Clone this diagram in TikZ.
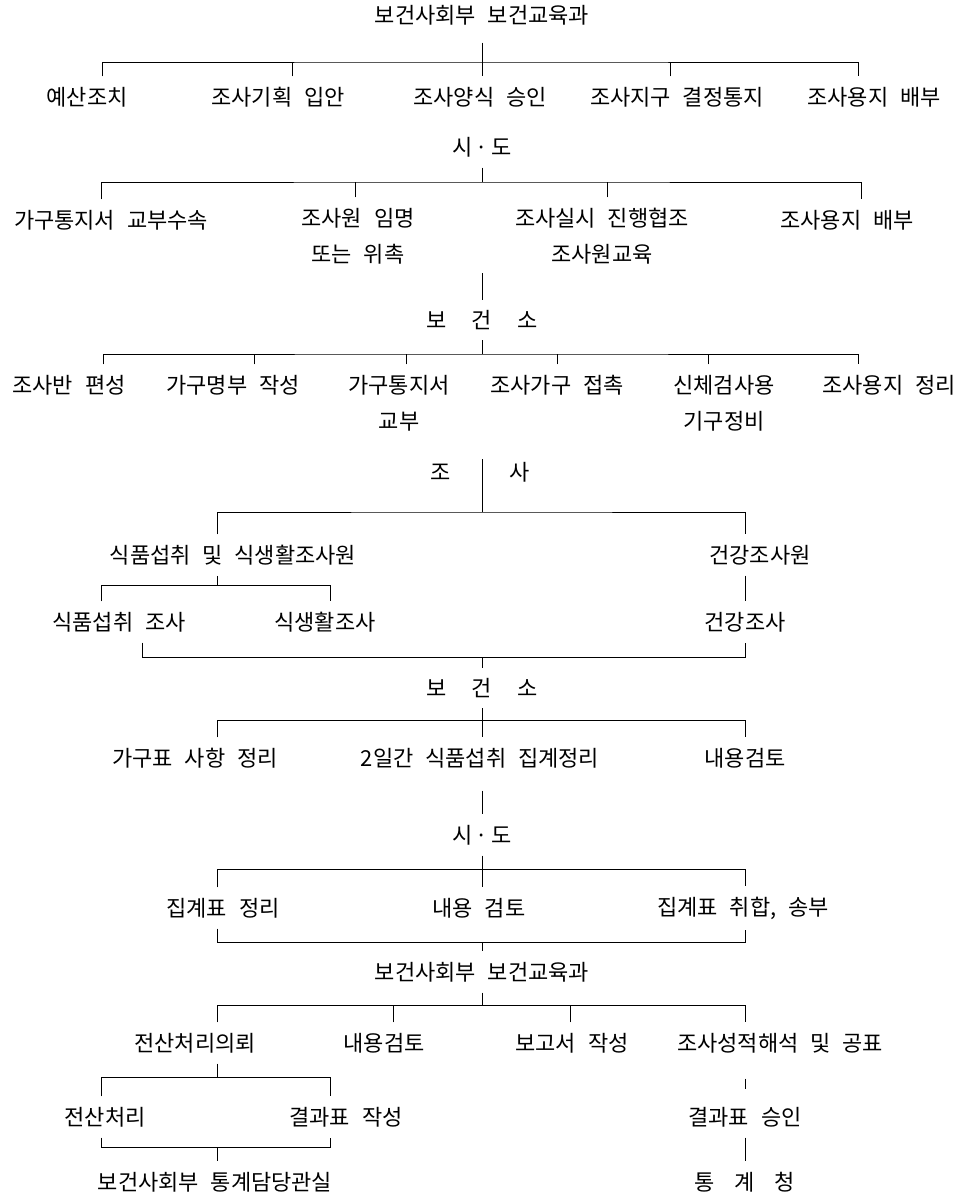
\documentclass[tikz,border=0pt]{standalone}
\usepackage{fontspec}
\setmainfont{Noto Sans CJK KR}[WordSpace=2.4]
\begin{document}
\begin{tikzpicture}[x=1pt, y=-1pt,
  unit/.style={font=\fontsize{22}{36}\selectfont, inner xsep=2pt, inner ysep=10.5pt},
  unit2/.style={unit, align=center},
  link/.style={line width=1pt}]
  \useasboundingbox (0,0) rectangle (957,1195);
  % 보건사회부
  \node[unit] (hqa) at (482,15) {보건사회부 보건교육과};
  \coordinate (b1) at (482,62);
  \node[unit] (r1a) at (87,97) {예산조치};
  \node[unit] (r1b) at (278,97) {조사기획 입안};
  \node[unit] (r1c) at (480,97) {조사양식 승인};
  \node[unit] (r1d) at (677,97) {조사지구 결정통지};
  \node[unit] (r1e) at (874,97) {조사용지 배부};
  \draw[link, shorten <=7pt] (hqa.south) -- (hqa.south |- r1c.north);
  \draw[link] ([xshift=15pt]r1a.north) |- (b1) -| ([xshift=-16pt]r1e.north);
  \foreach \n/\d in {r1b/14, r1d/-7} \draw[link] ([xshift=\d pt]\n.north) -- ([xshift=\d pt]\n.north |- b1);
  % 시도
  \node[unit] (sido1) at (482,147) {시\kern3pt·\kern3pt도};
  \coordinate (b2) at (482,182);
  \node[unit] (r2a) at (111,220) {가구통지서 교부수속};
  \node[unit2] (r2b) at (358,236) {조사원 임명\\또는 위촉};
  \node[unit2] (r2c) at (602,236) {조사실시 진행협조\\조사원교육};
  \node[unit] (r2d) at (847,220) {조사용지 배부};
  \draw[link] (sido1.south) -- (b2);
  \draw[link] ([xshift=-10pt]r2a.north) |- (b2) -| ([xshift=14pt]r2d.north);
  \foreach \n/\d in {r2b/-3, r2c/5} \draw[link] ([xshift=\d pt]\n.north) -- ([xshift=\d pt]\n.north |- b2);
  \coordinate (c2) at (482,273);
  % 보건소
  \node[unit] (bgs1) at (482,320) {보\hspace{1.15em}건\hspace{1.15em}소};
  \coordinate (b3) at (482,354);
  \node[unit] (r3a) at (69,385) {조사반 편성};
  \node[unit] (r3b) at (233,385) {가구명부 작성};
  \node[unit2] (r3c) at (399,403) {가구통지서\\교부};
  \node[unit] (r3d) at (557,385) {조사가구 접촉};
  \node[unit2] (r3e) at (724,403) {신체검사용\\기구정비};
  \node[unit] (r3f) at (889,385) {조사용지 정리};
  \draw[link] (c2) -- (bgs1.north);
  \draw[link] (bgs1.south) -- (b3);
  \draw[link] ([xshift=34pt]r3a.north) |- (b3) -| ([xshift=-31pt]r3f.north);
  \foreach \n/\d in {r3b/21, r3c/7, r3d/0, r3e/-16} \draw[link] ([xshift=\d pt]\n.north) -- ([xshift=\d pt]\n.north |- b3);
  % 조사
  \node[unit] (josa) at (480,472) {조\hspace{2.7em}사};
  \coordinate (b4) at (482,512);
  \node[unit] (r4a) at (233,555) {식품섭취 및 식생활조사원};
  \node[unit] (r4b) at (760,555) {건강조사원};
  \draw[link, shorten <=8pt] (b4 |- josa.north) -- (b4);
  \draw[link] ([xshift=-16pt]r4a.north) |- (b4) -| ([xshift=-15pt]r4b.north);
  \coordinate (b5) at (217,585);
  \node[unit] (r4c) at (119,622) {식품섭취 조사};
  \node[unit] (r4d) at (325,622) {식생활조사};
  \node[unit] (r4e) at (745,622) {건강조사};
  \draw[link] ([xshift=-16pt]r4a.south) -- (b5);
  \draw[link] ([xshift=-18pt]r4c.north) |- (b5) -| ([xshift=5pt]r4d.north);
  \draw[link] ([xshift=-15pt]r4b.south) -- (r4e.north);
  \coordinate (b6) at (482,657);
  \draw[link] ([xshift=23pt]r4c.south) |- (b6) -| (r4e.south);
  % 보건소
  \node[unit] (bgs2) at (482,688) {보\hspace{1.15em}건\hspace{1.15em}소};
  \coordinate (b7) at (482,720);
  \node[unit] (r5a) at (195,758) {가구표 사항 정리};
  \node[unit] (r5b) at (480,758) {2일간 식품섭취 집계정리};
  \node[unit] (r5c) at (745,758) {내용검토};
  \draw[link] (b6) -- (bgs2.north);
  \draw[link] (bgs2.south) -- (bgs2.south |- r5b.north);
  \draw[link] ([xshift=22pt]r5a.north) |- (b7) -| (r5c.north);
  % 시도
  \node[unit] (sido2) at (482,835) {시\kern3pt·\kern3pt도};
  \coordinate (b8) at (482,869);
  \node[unit] (r6a) at (223,908) {집계표 정리};
  \node[unit] (r6b) at (479,908) {내용 검토};
  \node[unit] (r6c) at (743,908) {집계표 취합, 송부};
  \draw[link, shorten <=12pt] (sido2.north |- r5b.south) -- (sido2.north);
  \draw[link] (sido2.south) -- (sido2.south |- r6b.north);
  \draw[link] ([xshift=-6pt]r6a.north) |- (b8) -| ([xshift=2pt]r6c.north);
  \coordinate (b9) at (482,942);
  \draw[link] ([xshift=-6pt]r6a.south) |- (b9) -| ([xshift=2pt]r6c.south);
  % 보건사회부
  \node[unit] (hqb) at (482,972) {보건사회부 보건교육과};
  \coordinate (b10) at (482,1005);
  \node[unit] (r7a) at (195,1043) {전산처리의뢰};
  \node[unit] (r7b) at (384,1043) {내용검토};
  \node[unit] (r7c) at (572,1043) {보고서 작성};
  \node[unit] (r7d) at (780,1043) {조사성적해석 및 공표};
  \draw[link] (b9) -- (hqb.north);
  \draw[link] (hqb.south) -- (b10);
  \draw[link] ([xshift=22pt]r7a.north) |- (b10) -| ([xshift=-35pt]r7d.north);
  \foreach \n/\d in {r7b/9, r7c/-2} \draw[link] ([xshift=\d pt]\n.north) -- ([xshift=\d pt]\n.north |- b10);
  \coordinate (b11) at (217,1077);
  \node[unit] (r7e) at (105,1117) {전산처리};
  \node[unit] (r7f) at (346,1117) {결과표 작성};
  \draw[link] ([xshift=22pt]r7a.south) -- (b11);
  \draw[link] ([xshift=-4pt]r7e.north) |- (b11) -| ([xshift=-16pt]r7f.north);
  \coordinate (b12) at (217,1147);
  \node[unit] (r7g) at (215,1182) {보건사회부 통계담당관실};
  \draw[link] ([xshift=-4pt]r7e.south) |- (b12) -| ([xshift=-16pt]r7f.south);
  \draw[link] (b12) -- (b12 |- r7g.north);
  \node[unit] (r7h) at (745,1117) {결과표 승인};
  \node[unit] (r7i) at (745,1182) {통\hspace{0.9em}계\hspace{0.9em}청};
  \draw[link, shorten <=15pt, shorten >=7pt] ([xshift=-35pt]r7d.south) -- (r7h.north);
  \draw[link] (r7h.south) -- (r7i.north);
\end{tikzpicture}
\end{document}
